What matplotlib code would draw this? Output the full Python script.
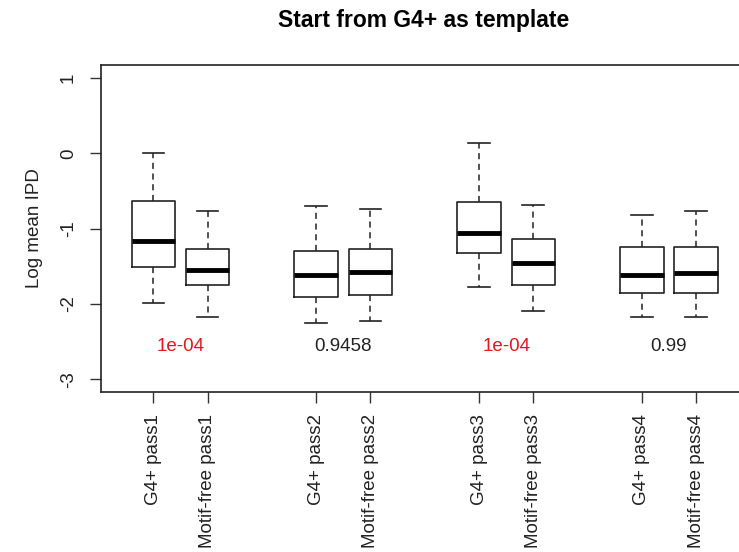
import matplotlib
matplotlib.use("Agg")
import matplotlib.pyplot as plt

plt.rcParams['font.family'] = ['Liberation Sans', 'DejaVu Sans']

labels = ["G4+ pass1", "Motif-free pass1", "G4+ pass2", "Motif-free pass2",
          "G4+ pass3", "Motif-free pass3", "G4+ pass4", "Motif-free pass4"]
positions = [1, 2, 4, 5, 7, 8, 10, 11]
whis_low = [-1.99, -2.17, -2.25, -2.23, -1.78, -2.10, -2.18, -2.18]
q1 = [-1.51, -1.75, -1.91, -1.88, -1.33, -1.75, -1.85, -1.85]
median = [-1.17, -1.55, -1.62, -1.58, -1.06, -1.46, -1.61, -1.59]
q3 = [-0.63, -1.27, -1.30, -1.27, -0.64, -1.14, -1.25, -1.25]
whis_high = [0.00, -0.76, -0.70, -0.74, 0.14, -0.68, -0.82, -0.77]

pvalues = ["1e-04", "0.9458", "1e-04", "0.99"]
pvalue_colors = ["#e8141c", "#222222", "#e8141c", "#222222"]
pvalue_x = [1.5, 4.5, 7.5, 10.5]
pvalue_y = -2.57

fig = plt.figure(figsize=(7.39, 5.52), dpi=100)
ax = fig.add_axes([0.1363, 0.2904, 0.8732, 0.5913])

stats = []
for i in range(len(labels)):
    stats.append(dict(whislo=whis_low[i], q1=q1[i], med=median[i], q3=q3[i],
                      whishi=whis_high[i], fliers=[], label=labels[i]))

ax.bxp(stats, positions=positions, widths=0.8, showfliers=False,
       boxprops=dict(color='#222222', linewidth=1.2),
       whiskerprops=dict(color='#222222', linewidth=1.1, linestyle=(0, (4, 3))),
       capprops=dict(color='#222222', linewidth=1.2),
       medianprops=dict(color='black', linewidth=3.5, solid_capstyle='butt'),
       capwidths=0.4)

for x, t, c in zip(pvalue_x, pvalues, pvalue_colors):
    ax.text(x, pvalue_y, t, ha='center', va='center', fontsize=13.5, color=c)

ax.set_xlim(0.03, 11.92)
ax.set_ylim(-3.166, 1.169)
ax.set_yticks([-3, -2, -1, 0, 1])
ax.set_yticklabels(["-3", "-2", "-1", "0", "1"], rotation=90, va='center')
ax.set_xticks(positions)
ax.set_xticklabels(labels, rotation=90, va='top', ha='center')
ax.tick_params(axis='both', labelsize=13.5, length=8, width=1, color='#333333',
               labelcolor='#222222')
ax.tick_params(axis='y', pad=9)
ax.tick_params(axis='x', pad=8)
for s in ax.spines.values():
    s.set_linewidth(1.2)
    s.set_color('#222222')

ax.set_ylabel("Log mean IPD", fontsize=13.5, color='#222222')
ax.yaxis.set_label_coords(-0.09, 0.5)

fig.text(0.5727, 0.963, "Start from G4+ as template", ha='center', va='center',
         fontsize=16.5, fontweight='bold')

fig.savefig("out.png", dpi=100)
